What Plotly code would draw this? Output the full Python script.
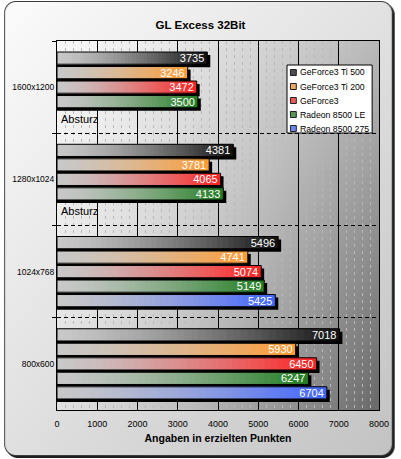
import base64
import struct
import zlib

import numpy as np
import plotly.graph_objects as go

# ---------------- data ----------------
categories = ["1600x1200", "1280x1024", "1024x768", "800x600"]
series_names = ["GeForce3 Ti 500", "GeForce3 Ti 200", "GeForce3",
                "Radeon 8500 LE", "Radeon 8500 275"]
gf3_ti500 = [3735, 4381, 5496, 7018]
gf3_ti200 = [3246, 3781, 4741, 5930]
gf3 = [3472, 4065, 5074, 6450]
radeon_8500_le = [3500, 4133, 5149, 6247]
radeon_8500_275 = [None, None, 5425, 6704]
crash_label = "Absturz"
title_text = "GL Excess 32Bit"
x_title = "Angaben in erzielten Punkten"
x_ticks = [0, 1000, 2000, 3000, 4000, 5000, 6000, 7000, 8000]

series_values = [gf3_ti500, gf3_ti200, gf3, radeon_8500_le, radeon_8500_275]

# ---------------- style ----------------
W, H = 401, 459
ML, MR, MT, MB = 55, 17, 41, 49
PW, PH = W - ML - MR, H - MT - MB
FONT = "Liberation Sans"

end_colors = [(16, 16, 16), (255, 155, 50), (255, 32, 32), (32, 125, 32), (64, 100, 255)]
start_color = (200, 200, 200)

group_px = PH / len(categories)
pitch = 14.5 / group_px
bar_h = 12.2 / group_px
shadow_dy = 3.0 / group_px
shadow_dx = 3.0 * 8000 / PW
N_SEG = 40


def grad_color(i, t):
    t = max(0.0, min(1.0, t)) ** 1.4
    c = [round(s + (e - s) * t) for s, e in zip(start_color, end_colors[i])]
    return "rgb(%d,%d,%d)" % tuple(c)


def center_off(i):
    return (i - 2) * pitch


def bar_off(i):
    return center_off(i) - bar_h / 2


# ---------------- background image (frame + plot gradient) ----------------
yy, xx = np.mgrid[0:H, 0:W].astype(float) + 0.5


def rr_cov(x0, y0, x1, y1, r):
    cx, cy = (x0 + x1) / 2, (y0 + y1) / 2
    hx, hy = (x1 - x0) / 2, (y1 - y0) / 2
    qx = np.abs(xx - cx) - (hx - r)
    qy = np.abs(yy - cy) - (hy - r)
    d = np.hypot(np.maximum(qx, 0), np.maximum(qy, 0)) + np.minimum(np.maximum(qx, qy), 0) - r
    return np.clip(0.5 - d, 0, 1)


img = np.full((H, W), 255.0)
a = rr_cov(3, 3, 400, 458, 12)
img = img * (1 - a) + 30 * a
a = rr_cov(1, 1, 398, 456, 12)
img = img * (1 - a) + 60 * a
u = xx / W
v = yy / H
frame_fill = 252 - 26 * u - 28 * v - 4 * u * v
a = rr_cov(2, 2, 397, 455, 11)
img = img * (1 - a) + frame_fill * a
pu = np.clip((xx - ML) / PW, 0, 1) ** 1.3
pv = np.clip((yy - MT) / PH, 0, 1)
top = 248 - 63 * pu
bot = 225 - 120 * pu
plot_fill = top * (1 - pv) + bot * pv
mask = (xx >= ML) & (xx < ML + PW) & (yy >= MT) & (yy < MT + PH)
img = np.where(mask, plot_fill, img)
rgb = np.repeat(np.clip(img, 0, 255).astype(np.uint8)[:, :, None], 3, axis=2)


def png_uri(arr):
    h, w, _ = arr.shape
    raw = b"".join(b"\x00" + arr[r].tobytes() for r in range(h))

    def chunk(t, d):
        return struct.pack(">I", len(d)) + t + d + struct.pack(">I", zlib.crc32(t + d) & 0xFFFFFFFF)

    data = (b"\x89PNG\r\n\x1a\n" + chunk(b"IHDR", struct.pack(">IIBBBBB", w, h, 8, 2, 0, 0, 0))
            + chunk(b"IDAT", zlib.compress(raw, 9)) + chunk(b"IEND", b""))
    return "data:image/png;base64," + base64.b64encode(data).decode()


def px_x(px):
    return (px - ML) / PW


def px_y(py):
    return 1 - (py - MT) / PH


# ---------------- figure ----------------
fig = go.Figure()

# shadows
for i, vals in enumerate(series_values):
    fig.add_trace(go.Bar(
        y=categories, x=[None if val is None else val + shadow_dx for val in vals],
        orientation="h", width=bar_h, offset=bar_off(i) + shadow_dy,
        marker=dict(color="black", line=dict(width=0)),
        showlegend=False, hoverinfo="skip"))

# gradient fills (long to short, each drawn over the previous)
for k in range(N_SEG, 0, -1):
    xs, ys, offs, cols = [], [], [], []
    for i, vals in enumerate(series_values):
        for j, val in enumerate(vals):
            if val is None:
                continue
            xs.append(val * k / N_SEG)
            ys.append(categories[j])
            offs.append(bar_off(i))
            cols.append(grad_color(i, (k - 0.5) / N_SEG))
    fig.add_trace(go.Bar(
        y=ys, x=xs, orientation="h", width=bar_h, offset=offs,
        marker=dict(color=cols, line=dict(width=0)),
        showlegend=False, hoverinfo="skip"))

# outlines + value labels
for i, vals in enumerate(series_values):
    fig.add_trace(go.Bar(
        y=categories, x=vals, orientation="h", width=bar_h, offset=bar_off(i),
        name=series_names[i],
        marker=dict(color="rgba(0,0,0,0)", line=dict(width=1, color="black")),
        text=["" if val is None else str(val) for val in vals],
        textposition="inside", insidetextanchor="end", constraintext="none",
        textfont=dict(family=FONT, size=11, color="white"),
        showlegend=False,
        hovertemplate="%{y}: %{x}<extra>" + series_names[i] + "</extra>"))

annotations = []
for i, vals in enumerate(series_values):
    for j, val in enumerate(vals):
        if val is None:
            annotations.append(dict(
                x=0, y=j + center_off(i), xref="x", yref="y", text=crash_label,
                showarrow=False, xanchor="left", yanchor="middle", xshift=2, yshift=-3,
                font=dict(family=FONT, size=11, color="black")))

# manual legend
shapes = [dict(type="rect", xref="paper", yref="paper",
               x0=px_x(290), x1=px_x(377), y0=px_y(65), y1=px_y(133),
               fillcolor="white", line=dict(color="black", width=1), layer="above")]
for i, name in enumerate(series_names):
    cy = 72.5 + 14 * i
    shapes.append(dict(type="rect", xref="paper", yref="paper",
                       x0=px_x(293.5), x1=px_x(299.5), y0=px_y(cy - 3), y1=px_y(cy + 3),
                       fillcolor=grad_color(i, 0.75), line=dict(color="#202020", width=1),
                       layer="above"))
    annotations.append(dict(x=px_x(301.5), y=px_y(cy), xref="paper", yref="paper",
                            text=name, showarrow=False, xanchor="left", yanchor="middle",
                            font=dict(family=FONT, size=8.7, color="black")))

fig.update_layout(
    width=W, height=H,
    margin=dict(l=ML, r=MR, t=MT, b=MB, pad=0),
    paper_bgcolor="white", plot_bgcolor="rgba(0,0,0,0)",
    barmode="overlay",
    showlegend=False,
    title=dict(text=title_text, x=0.5, xref="container", xanchor="center",
               y=1 - 24.5 / H, yref="container", yanchor="middle",
               font=dict(family=FONT, size=11.5, color="black", weight="bold")),
    font=dict(family=FONT, color="black"),
    images=[dict(source=png_uri(rgb), xref="paper", yref="paper",
                 x=-ML / PW, y=1 + MT / PH, sizex=W / PW, sizey=H / PH,
                 xanchor="left", yanchor="top", sizing="stretch", layer="below")],
    shapes=shapes,
    annotations=annotations,
)

fig.update_xaxes(
    range=[0, 8000], tickvals=x_ticks, ticktext=[str(t) for t in x_ticks],
    showgrid=True, gridcolor="black", gridwidth=1,
    minor=dict(dtick=200, tick0=0, showgrid=True, gridcolor="#b8b8b8",
               griddash="3px,4px", gridwidth=1),
    showline=True, linecolor="black", linewidth=1, mirror=True, zeroline=False,
    ticks="outside", ticklen=5, tickcolor="rgba(0,0,0,0)",
    tickfont=dict(family=FONT, size=9, color="black"),
    title=dict(text=x_title, standoff=6,
               font=dict(family=FONT, size=10.5, color="black", weight="bold")),
)
fig.update_yaxes(
    type="category", categoryorder="array", categoryarray=categories,
    range=[len(categories) - 0.5, -0.5],
    tickson="boundaries", ticks="outside", ticklen=4, tickcolor="black",
    showgrid=True, gridcolor="black", griddash="4px,3px", gridwidth=1,
    showline=True, linecolor="black", linewidth=1, mirror=True, zeroline=False,
    tickfont=dict(family=FONT, size=8.5, color="black"),
)

fig.write_html("out.html")
